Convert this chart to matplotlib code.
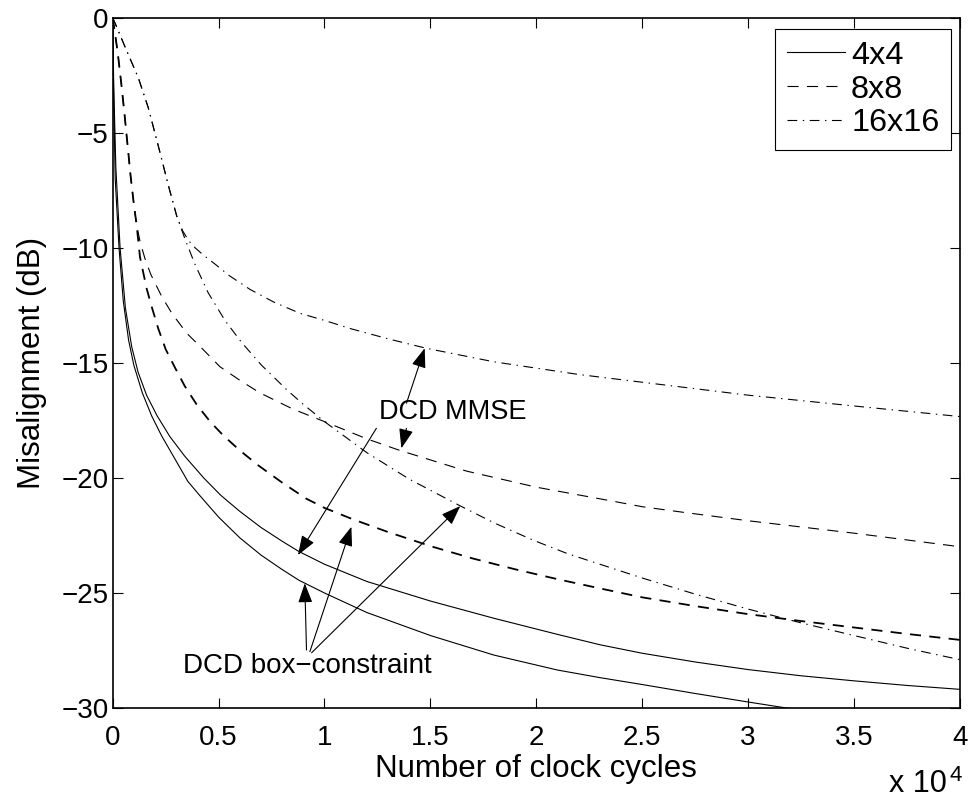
import matplotlib.pyplot as plt

plt.rcParams['font.family'] = ['Liberation Sans', 'DejaVu Sans']
plt.rcParams['lines.scale_dashes'] = False

# x in units of 10^4 clock cycles, y = misalignment in dB
x_4_mmse = [0, 0.005, 0.015, 0.035, 0.06, 0.09, 0.12, 0.16, 0.21, 0.27, 0.34, 0.43,
            0.51, 0.6, 0.7, 0.8, 0.88, 1.0, 1.2, 1.5, 1.8, 2.1, 2.3, 2.5, 2.75,
            3.0, 3.25, 3.5, 3.75, 4.0]
y_4_mmse = [0, -3, -6.5, -10, -12.6, -14.3, -15.4, -16.4, -17.3, -18.2, -19.05, -20.0,
            -20.75, -21.45, -22.15, -22.75, -23.2, -23.75, -24.5, -25.35, -26.1, -26.8,
            -27.25, -27.62, -28.0, -28.33, -28.6, -28.82, -29.02, -29.19]

x_4_box = [0, 0.005, 0.012, 0.03, 0.05, 0.075, 0.10, 0.14, 0.184, 0.23, 0.28, 0.355,
           0.41, 0.5, 0.6, 0.7, 0.8, 0.88, 1.0, 1.2, 1.5, 1.8, 2.1, 2.3, 2.5, 2.75,
           3.0, 3.25, 3.5, 4.0]
y_4_box = [0, -3.5, -7, -10, -12.3, -14.0, -15.1, -16.3, -17.3, -18.15, -18.95, -20.15,
           -20.75, -21.7, -22.6, -23.35, -23.98, -24.45, -25.0, -25.85, -26.85, -27.7,
           -28.35, -28.68, -28.98, -29.37, -29.74, -30.1, -30.45, -31.1]

x_8_mmse = [0, 0.01, 0.025, 0.04, 0.055, 0.07, 0.085, 0.1, 0.113, 0.13, 0.152, 0.18,
            0.231, 0.28, 0.349, 0.42, 0.506, 0.6, 0.695, 0.85, 1.0, 1.2, 1.355, 1.67,
            2.0, 2.35, 2.5, 2.7, 3.0, 3.5, 4.0]
y_8_mmse = [0, -0.6, -1.6, -2.8, -4.1, -5.5, -6.9, -8.1, -9.0, -9.75, -10.45, -11.15,
            -12.1, -12.85, -13.7, -14.35, -15.16, -15.75, -16.3, -17.0, -17.55, -18.3,
            -18.8, -19.7, -20.4, -20.99, -21.25, -21.5, -21.86, -22.4, -22.99]

x_8_box = [0, 0.01, 0.025, 0.04, 0.055, 0.07, 0.085, 0.1, 0.113, 0.129, 0.16, 0.184,
           0.215, 0.25, 0.294, 0.34, 0.396, 0.46, 0.522, 0.6, 0.687, 0.8, 0.914, 1.0,
           1.135, 1.3, 1.51, 1.7, 1.9, 2.1, 2.3, 2.5, 2.75, 3.0, 3.25, 3.5, 3.75, 4.0]
y_8_box = [0, -0.6, -1.6, -2.8, -4.1, -5.5, -6.9, -8.1, -9.0, -10.4, -11.75, -12.55,
           -13.5, -14.4, -15.2, -16.0, -16.8, -17.55, -18.15, -18.8, -19.45, -20.2,
           -20.9, -21.3, -21.8, -22.35, -22.99, -23.5, -23.97, -24.4, -24.8, -25.19,
           -25.57, -25.92, -26.22, -26.5, -26.78, -27.04]

x_16_mmse = [0, 0.01, 0.058, 0.121, 0.168, 0.215, 0.262, 0.302, 0.33, 0.36, 0.39,
             0.427, 0.49, 0.55, 0.648, 0.76, 0.884, 1.0, 1.12, 1.3, 1.48, 1.8, 2.2,
             2.6, 3.0, 3.5, 4.0]
y_16_mmse = [0, -0.2, -1.25, -2.6, -3.9, -5.55, -7.25, -8.6, -9.25, -9.7, -10.0,
             -10.3, -10.75, -11.2, -11.8, -12.35, -12.84, -13.15, -13.5, -13.95,
             -14.36, -14.95, -15.5, -15.95, -16.4, -16.87, -17.33]

x_16_box = [0, 0.01, 0.058, 0.121, 0.168, 0.215, 0.262, 0.302, 0.341, 0.388, 0.451,
            0.53, 0.608, 0.703, 0.82, 0.9, 1.0, 1.2, 1.4, 1.638, 1.8, 1.984, 2.15,
            2.3, 2.5, 2.75, 3.0, 3.25, 3.5, 3.75, 4.0]
y_16_box = [0, -0.2, -1.25, -2.6, -3.9, -5.55, -7.25, -8.6, -9.6, -10.7, -11.95,
            -13.15, -14.1, -15.1, -16.15, -16.8, -17.55, -18.9, -20.05, -21.2, -21.95,
            -22.7, -23.3, -23.75, -24.35, -25.05, -25.7, -26.3, -26.85, -27.4, -27.9]

legend_labels = ['4x4', '8x8', '16x16']
x_ticks = [0, 0.5, 1, 1.5, 2, 2.5, 3, 3.5, 4]
x_tick_labels = ['0', '0.5', '1', '1.5', '2', '2.5', '3', '3.5', '4']
y_ticks = [0, -5, -10, -15, -20, -25, -30]

# arrows: (head, tail) in data coords
mmse_arrows = [((1.473, -14.36), (1.387, -16.75)),
               ((1.363, -18.71), (1.387, -17.84)),
               ((0.875, -23.35), (1.245, -17.84))]
box_arrows = [((0.907, -24.58), (0.915, -27.48)),
              ((1.127, -22.12), (0.931, -27.55)),
              ((1.641, -21.22), (0.939, -27.6))]

DASH = (0, (8.0, 6.0))
DASHDOT = (0, (7.0, 4.0, 1.0, 4.0))

fig = plt.figure(figsize=(9.73, 7.98), dpi=100)
ax = fig.add_axes([0.1158, 0.1128, 0.8708, 0.8647])

ax.plot(x_4_mmse, y_4_mmse, color='k', lw=0.8, ls='-', label=legend_labels[0])
ax.plot(x_8_mmse, y_8_mmse, color='k', lw=0.8, ls=DASH, label=legend_labels[1])
ax.plot(x_16_mmse, y_16_mmse, color='k', lw=0.8, ls=DASHDOT, label=legend_labels[2])
ax.plot(x_4_box, y_4_box, color='k', lw=0.8, ls='-')
ax.plot(x_8_box, y_8_box, color='k', lw=1.3, ls=DASH)
ax.plot(x_16_box, y_16_box, color='k', lw=0.8, ls=DASHDOT)

ax.set_xlim(0, 4)
ax.set_ylim(-30, 0)
ax.set_xticks(x_ticks)
ax.set_xticklabels(x_tick_labels)
ax.set_yticks(y_ticks)
ax.tick_params(direction='in', length=7, width=0.8, top=True, right=True,
               labelsize=20)
ax.tick_params(axis='x', pad=12)
ax.tick_params(axis='y', pad=3)
for s in ax.spines.values():
    s.set_linewidth(1.2)

ax.set_xlabel('Number of clock cycles', fontsize=22.5)
ax.set_ylabel('Misalignment (dB)', fontsize=22.5)
ax.xaxis.set_label_coords(0.5, -0.066)
ax.yaxis.set_label_coords(-0.078, 0.5)

fig.text(889 / 973, 1 - 792 / 798, 'x 10', fontsize=22, ha='left', va='baseline')
fig.text(950 / 973, 1 - 781 / 798, '4', fontsize=16, ha='left', va='baseline')

aprops = dict(arrowstyle='-|>,head_length=0.6,head_width=0.22', color='k',
              lw=0.8, mutation_scale=20, shrinkA=0, shrinkB=0)
for head, tail in mmse_arrows + box_arrows:
    ax.annotate('', xy=head, xytext=tail, arrowprops=aprops)

ax.text(1.605, -17.13, 'DCD MMSE', fontsize=19.5, ha='center', va='center')
ax.text(0.919, -28.17, 'DCD box\u2212constraint', fontsize=20, ha='center', va='center')

leg = ax.legend(loc='upper right', bbox_to_anchor=(0.9894, 0.984), borderaxespad=0,
                fontsize=23.3, fancybox=False, framealpha=1, edgecolor='k',
                handlelength=1.79, handletextpad=0.2, labelspacing=0.12,
                borderpad=0.36)
leg.get_frame().set_linewidth(0.8)

fig.savefig('out.png', dpi=100)
